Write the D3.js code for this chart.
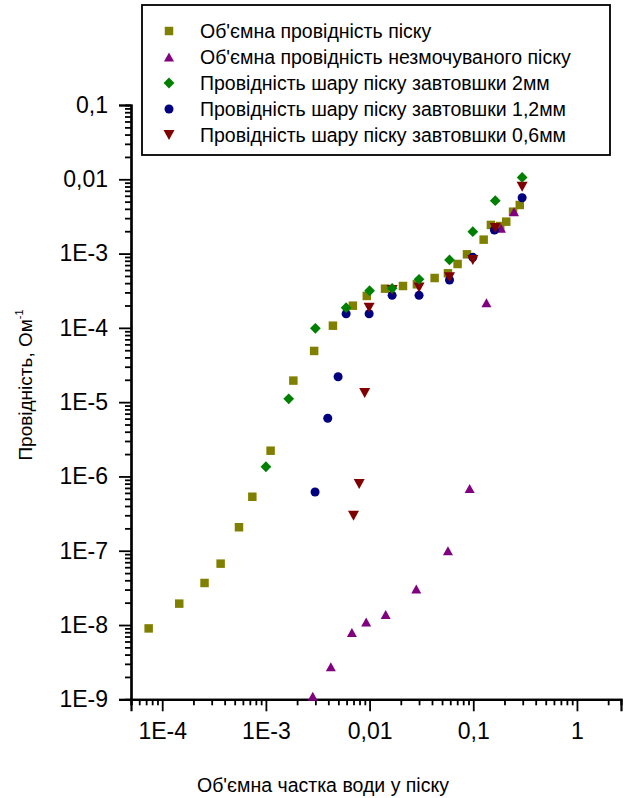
<!DOCTYPE html>
<html>
<head>
<meta charset="utf-8">
<script src="https://cdn.jsdelivr.net/npm/d3@7"></script>
<style>
	body { margin:0; background:#fff; }
	svg { display:block; font-family:"Liberation Sans", Arial, sans-serif; }
</style>
</head>
<body>
<div id="chart"></div>
<script>

// volume fraction of water (x) and conductivity (y) per series
const sandX = [7.4e-5,1.46e-4,2.56e-4,3.66e-4,5.5e-4,7.4e-4,1.11e-3,1.84e-3,2.92e-3,4.43e-3,6.9e-3,9.4e-3,0.0141,0.021,0.0286,0.0424,0.057,0.0706,0.087,0.126,0.148,0.182,0.208,0.242,0.281]
const sandY = [9.0e-9,1.94e-8,3.68e-8,6.7e-8,2.07e-7,5.33e-7,2.22e-6,1.95e-5,4.89e-5,1.07e-4,1.99e-4,2.69e-4,3.37e-4,3.66e-4,3.86e-4,4.69e-4,5.43e-4,7.24e-4,9.77e-4,1.54e-3,2.43e-3,2.35e-3,2.69e-3,3.66e-3,4.51e-3]

const dryX = [2.83e-3,4.23e-3,6.75e-3,9.27e-3,0.0143,0.0282,0.057,0.0923,0.134,0.185,0.247]
const dryY = [1.1e-9,2.75e-9,7.9e-9,1.1e-8,1.39e-8,3.05e-8,1.0e-7,6.9e-7,2.18e-4,2.19e-3,3.66e-3]

const layer2X = [1.0e-3,1.66e-3,3.0e-3,5.94e-3,0.01,0.0165,0.03,0.059,0.099,0.163,0.296]
const layer2Y = [1.35e-6,1.11e-5,9.87e-5,1.87e-4,3.16e-4,3.41e-4,4.5e-4,8.2e-4,1.97e-3,5.15e-3,1.06e-2]

const layer12X = [2.98e-3,3.95e-3,4.97e-3,5.94e-3,0.0099,0.0165,0.03,0.059,0.099,0.16,0.296]
const layer12Y = [6.18e-7,6.07e-6,2.2e-5,1.55e-4,1.55e-4,2.74e-4,2.74e-4,4.41e-4,8.9e-4,2.08e-3,5.65e-3]

const layer06X = [7.0e-3,7.94e-3,8.97e-3,0.0099,0.0165,0.03,0.059,0.099,0.163,0.296]
const layer06Y = [2.96e-7,7.9e-7,1.33e-5,1.87e-4,3.24e-4,3.49e-4,4.8e-4,8.2e-4,2.21e-3,7.94e-3]

const seriesNames = [
	"Об'ємна провідність піску",
	"Об'ємна провідність незмочуваного піску",
	"Провідність шару піску завтовшки 2мм",
	"Провідність шару піску завтовшки 1,2мм",
	"Провідність шару піску завтовшки 0,6мм"
]

const xTickValues = [1e-4,1e-3,1e-2,1e-1,1]
const xTickLabels = ["1E-4","1E-3","0,01","0,1","1"]
const yTickValues = [1e-9,1e-8,1e-7,1e-6,1e-5,1e-4,1e-3,1e-2,1e-1]
const yTickLabels = ["1E-9","1E-8","1E-7","1E-6","1E-5","1E-4","1E-3","0,01","0,1"]

const xTitle = "Об'ємна частка води у піску"
const yTitle = "Провідність, Ом"

const width = 626, height = 798

const svg = d3.select("#chart").append("svg")
	.attr("width",width)
	.attr("height",height)

svg.append("rect").attr("width",width).attr("height",height).attr("fill","#fff")

const x = d3.scaleLog().domain([5e-5,2.66]).range([131,621])
const y = d3.scaleLog().domain([1e-9,0.1]).range([699.3,105])

// markers
const tri = (r,dir)=> "M0,"+(-dir*r*0.9)+"L"+r+","+(dir*r*0.9)+"L"+(-r)+","+(dir*r*0.9)+"Z"
const shapes = [
	{ path: d3.symbol(d3.symbolSquare,72)(), color:"#808000", rot:0 },
	{ path: tri(5,1), color:"#800080", rot:0 },
	{ path: d3.symbol(d3.symbolSquare,58)(), color:"#008000", rot:45 },
	{ path: d3.symbol(d3.symbolCircle,64)(), color:"#000080", rot:0 },
	{ path: tri(5.5,-1), color:"#800000", rot:0 }
]

const series = [
	{ xs:sandX, ys:sandY, s:0 },
	{ xs:dryX, ys:dryY, s:1 },
	{ xs:layer12X, ys:layer12Y, s:3 },
	{ xs:layer06X, ys:layer06Y, s:4 },
	{ xs:layer2X, ys:layer2Y, s:2 }
]

// axes
const minor = (sc,major)=> sc.ticks(30).filter(v=>!major.some(m=>Math.abs(Math.log10(v)-Math.log10(m))<1e-6))

const xAxis = svg.append("g").attr("transform","translate(0,699.3)")
xAxis.append("g")
	.call(d3.axisBottom(x).tickValues(minor(x,xTickValues)).tickSize(6).tickFormat(""))
xAxis.append("g")
	.call(d3.axisBottom(x).tickValues(xTickValues).tickSize(12).tickPadding(11)
		.tickFormat((d,i)=>xTickLabels[i]))

const yAxis = svg.append("g").attr("transform","translate(131,0)")
yAxis.append("g")
	.call(d3.axisLeft(y).tickValues(minor(y,yTickValues)).tickSize(6).tickFormat(""))
yAxis.append("g")
	.call(d3.axisLeft(y).tickValues(yTickValues).tickSize(12).tickPadding(11)
		.tickFormat((d,i)=>yTickLabels[i]))

svg.selectAll(".domain").attr("stroke","#000").attr("stroke-width",2.2)
svg.selectAll(".tick line").attr("stroke","#000").attr("stroke-width",1.8)
svg.selectAll(".tick text")
	.attr("fill","#000")
	.style("font-size","23px")
	.style("font-family","'Liberation Sans', Arial, sans-serif")

// points
series.forEach(sr=>{
	const sh = shapes[sr.s]
	svg.append("g").selectAll("path")
		.data(sr.xs.map((v,i)=>[v,sr.ys[i]]))
		.enter().append("path")
		.attr("d",sh.path)
		.attr("transform",d=>"translate("+x(d[0])+","+y(d[1])+") rotate("+sh.rot+")")
		.attr("fill",sh.color)
})

// legend
const legend = svg.append("g")
legend.append("rect")
	.attr("x",142).attr("y",5).attr("width",468).attr("height",150)
	.attr("fill","#fff").attr("stroke","#000").attr("stroke-width",1.8)

seriesNames.forEach((name,i)=>{
	const ly = 31+i*26
	legend.append("path")
		.attr("d",shapes[i].path)
		.attr("transform","translate(169,"+ly+") rotate("+shapes[i].rot+")")
		.attr("fill",shapes[i].color)
	legend.append("text")
		.attr("x",200).attr("y",ly).attr("dy","0.36em")
		.style("font-size","19.5px")
		.text(name)
})

// titles
svg.append("text")
	.attr("x",323).attr("y",792)
	.attr("text-anchor","middle")
	.style("font-size","19.5px")
	.text(xTitle)

const yt = svg.append("text")
	.attr("transform","translate(32,385) rotate(-90)")
	.attr("text-anchor","middle")
	.style("font-size","19px")
yt.append("tspan").text(yTitle)
yt.append("tspan").attr("dy",-9).style("font-size","11px").text("-1")

</script>
</body>
</html>
